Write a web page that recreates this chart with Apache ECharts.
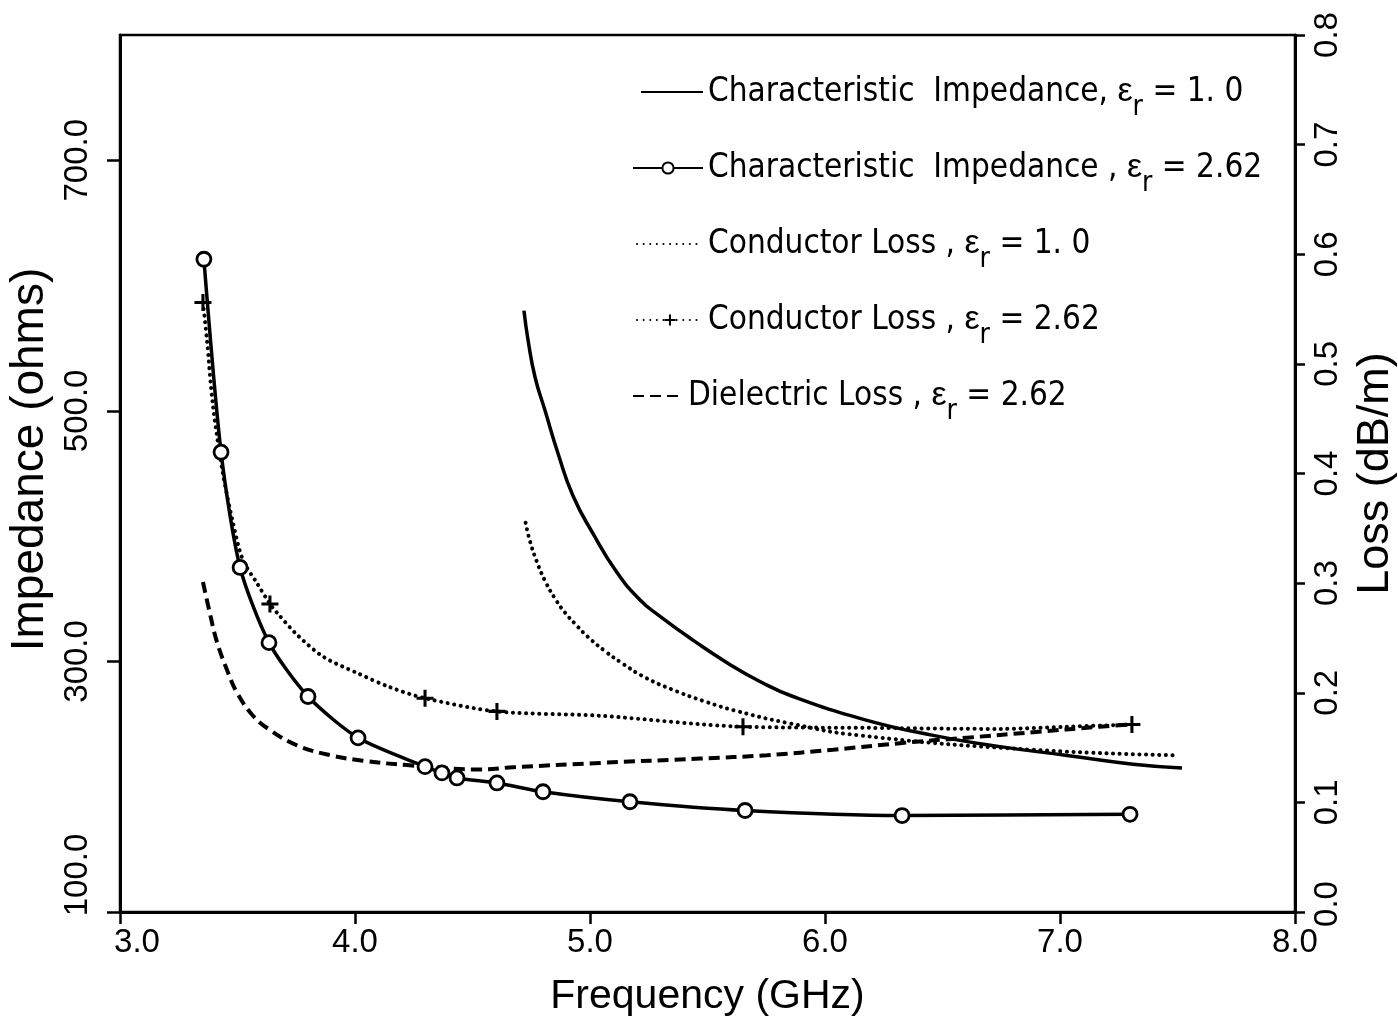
<!DOCTYPE html>
<html>
<head>
<meta charset="utf-8">
<script src="https://cdn.jsdelivr.net/npm/echarts@6/dist/echarts.min.js"></script>
<style>
html,body{margin:0;padding:0;background:#fff;overflow:hidden;}
#chart{width:1398px;height:1023px;}
</style>
</head>
<body>
<div id="chart"></div>
<script>
// ---- data ----
const xTicks = [3.0, 4.0, 5.0, 6.0, 7.0, 8.0];
const zTicks = [100, 300, 500, 700];
const lossTicks = [0.0, 0.1, 0.2, 0.3, 0.4, 0.5, 0.6, 0.7, 0.8];

// Characteristic impedance, er = 1.0 (ohms, left axis)
const ci1Freq = [4.719, 4.736, 4.766, 4.809, 4.864, 4.928, 5.013, 5.115, 5.213, 5.298, 5.438, 5.583, 5.723, 5.864, 6.179, 6.460, 6.745, 7.030, 7.311, 7.519];
const ci1Z    = [580, 557, 527, 500, 466, 432, 402, 371, 349, 336, 317, 299, 284, 272, 253, 241, 232, 225, 218, 215];

// Characteristic impedance, er = 2.62 (ohms, left axis) - every point marked with a circle
const ci262Freq = [3.357, 3.430, 3.511, 3.634, 3.800, 4.013, 4.298, 4.370, 4.434, 4.604, 4.800, 5.170, 5.660, 6.328, 7.298];
const ci262Z    = [621, 467, 375, 315, 272, 239, 216, 211, 207, 203, 196, 188, 181, 177, 178];

// Conductor loss, er = 1.0 (dB/m, right axis)
const cl1Freq = [4.726, 4.745, 4.773, 4.809, 4.851, 4.894, 4.936, 4.991, 5.064, 5.136, 5.234, 5.349, 5.489, 5.630, 5.851, 6.149, 6.885, 7.498];
const cl1Loss = [0.355, 0.338, 0.320, 0.302, 0.286, 0.273, 0.263, 0.251, 0.238, 0.227, 0.214, 0.203, 0.192, 0.183, 0.172, 0.161, 0.148, 0.143];

// Conductor loss, er = 2.62 (dB/m, right axis)
const cl262Freq = [3.353, 3.370, 3.396, 3.438, 3.481, 3.523, 3.583, 3.638, 3.668, 3.753, 3.864, 4.009, 4.149, 4.298, 4.604, 5.043, 5.651, 6.179, 6.745, 7.030, 7.306];
const cl262Loss = [0.556, 0.522, 0.461, 0.400, 0.355, 0.321, 0.300, 0.281, 0.273, 0.253, 0.233, 0.218, 0.205, 0.195, 0.183, 0.179, 0.169, 0.168, 0.167, 0.169, 0.171];
const cl262Marked = [3.353, 3.638, 4.298, 4.604, 5.651, 7.306];

// Dielectric loss, er = 2.62 (dB/m, right axis)
const dlFreq = [3.353, 3.383, 3.413, 3.455, 3.498, 3.566, 3.638, 3.753, 3.894, 4.034, 4.221, 4.532, 4.672, 5.043, 5.468, 5.753, 6.034, 6.319, 6.604, 6.885, 7.170, 7.298];
const dlLoss = [0.301, 0.272, 0.246, 0.221, 0.200, 0.179, 0.166, 0.152, 0.143, 0.138, 0.134, 0.130, 0.132, 0.136, 0.140, 0.143, 0.148, 0.154, 0.159, 0.164, 0.169, 0.171];

const seriesNames = ['ci1', 'ci262', 'cl1', 'cl262', 'dl'];
const legendLabels = {
  ci1:   ['Characteristic  Impedance, ', ' = 1. 0'],
  ci262: ['Characteristic  Impedance , ', ' = 2.62'],
  cl1:   ['Conductor Loss , ', ' = 1. 0'],
  cl262: ['Conductor Loss , ', ' = 2.62'],
  dl:    ['Dielectric Loss , ', ' = 2.62']
};

// ---- build chart ----
const zip = (a, b) => a.map((v, i) => [v, b[i]]);
const NARROW = '"Liberation Sans Narrow", "DejaVu Sans Condensed", "Liberation Sans", Arial, sans-serif';
const SANS = '"Liberation Sans", Arial, Helvetica, sans-serif';
const PLUS = 'path://M4.1,0h1.8v4.1h4.1v1.8h-4.1v4.1h-1.8v-4.1h-4.1v-1.8h4.1z';

const chart = echarts.init(document.getElementById('chart'), null, {renderer: 'canvas'});

const legendRich = {
  t: {fontFamily: NARROW, fontSize: 33, color: '#000', lineHeight: 60},
  e: {fontFamily: SANS, fontSize: 34, color: '#000', lineHeight: 60},
  s: {fontFamily: NARROW, fontSize: 28, color: '#000', lineHeight: 60, verticalAlign: 'bottom'}
};
function legendFor(name, top, left, w, hideSymbol) {
  const l = {
    data: [name], top: top, left: left, orient: 'vertical',
    itemWidth: w, itemHeight: 14, itemGap: 0, padding: 0,
    formatter: n => '{t|' + legendLabels[n][0] + '}{e|ε}{s|r}{t|' + legendLabels[n][1] + '}',
    textStyle: {rich: legendRich, fontFamily: NARROW, fontSize: 33, color: '#000'},
    selectedMode: false
  };
  if (hideSymbol) l.itemStyle = {opacity: 0};
  return l;
}

const axisFont = {fontFamily: SANS, fontSize: 33, color: '#000'};

const option = {
  animation: false,
  backgroundColor: '#fff',
  grid: {left: 120, right: 103, top: 35, bottom: 111, containLabel: false, outerBoundsMode: 'none',
         show: true, borderColor: '#000', borderWidth: 2.5},
  legend: [
    legendFor('ci1', 75, 640, 62, true),
    legendFor('ci262', 151, 632, 70, false),
    legendFor('cl1', 227, 636, 66, true),
    legendFor('cl262', 303, 636, 66, false),
    legendFor('dl', 379, 632, 50, true)
  ],
  xAxis: {
    type: 'value', min: 3, max: 8, interval: 1,
    name: 'Frequency (GHz)', nameLocation: 'middle', nameGap: 64,
    nameTextStyle: {fontFamily: SANS, fontSize: 41, color: '#000'},
    axisLine: {onZero: false, lineStyle: {color: '#000', width: 3}},
    axisTick: {length: 12, lineStyle: {color: '#000', width: 2.5}},
    axisLabel: Object.assign({}, axisFont, {
      margin: 14,
      formatter: v => v === 3 ? '{m|' + v.toFixed(1) + '}' : v.toFixed(1),
      rich: {m: Object.assign({}, axisFont, {padding: [0, 0, 0, 34]})}
    }),
    splitLine: {show: false}
  },
  yAxis: [
    {
      type: 'value', min: 100, max: 800, interval: 200, position: 'left',
      name: 'Impedance (ohms)', nameLocation: 'middle', nameGap: 64, nameRotate: 90,
      nameTextStyle: {fontFamily: SANS, fontSize: 46, color: '#000', padding: [0, 0, 0, 28]},
      axisLine: {show: true, onZero: false, lineStyle: {color: '#000', width: 3}},
      axisTick: {length: 13, lineStyle: {color: '#000', width: 2.5}},
      axisLabel: Object.assign({}, axisFont, {
        rotate: 90, margin: 26, showMaxLabel: false,
        formatter: v => v === 100 ? '{m|' + v.toFixed(1) + '}' : v.toFixed(1),
        rich: {m: Object.assign({}, axisFont, {padding: [0, 0, 0, 74]})}
      }),
      splitLine: {show: false}
    },
    {
      type: 'value', min: 0, max: 0.8, interval: 0.1, position: 'right',
      name: 'Loss (dB/m)', nameLocation: 'middle', nameGap: 58, nameRotate: 90,
      nameTextStyle: {fontFamily: SANS, fontSize: 45, color: '#000'},
      axisLine: {show: true, onZero: false, lineStyle: {color: '#000', width: 3}},
      axisTick: {length: 10, lineStyle: {color: '#000', width: 2.5}},
      axisLabel: Object.assign({}, axisFont, {
        rotate: 90, margin: 16,
        formatter: v => v === 0 ? '{m|' + v.toFixed(1) + '}' : v.toFixed(1),
        rich: {m: Object.assign({}, axisFont, {padding: [0, 0, 0, 16]})}
      }),
      splitLine: {show: false}
    }
  ],
  series: [
    {
      name: 'ci1', type: 'line', yAxisIndex: 0, data: zip(ci1Freq, ci1Z),
      smooth: 0.5, symbol: 'none', showSymbol: false,
      lineStyle: {color: '#000', width: 3.5}, itemStyle: {color: '#000'}
    },
    {
      name: 'ci262', type: 'line', yAxisIndex: 0, data: zip(ci262Freq, ci262Z),
      smooth: 0.25, symbol: 'circle', symbolSize: 14,
      lineStyle: {color: '#000', width: 3.5},
      itemStyle: {color: '#fff', borderColor: '#000', borderWidth: 2.8}
    },
    {
      name: 'cl1', type: 'line', yAxisIndex: 1, data: zip(cl1Freq, cl1Loss),
      smooth: 0.5, symbol: 'none', showSymbol: false,
      lineStyle: {color: '#000', width: 4, type: [0.1, 6.5], cap: 'round'}, itemStyle: {color: '#000'}
    },
    {
      name: 'cl262', type: 'line', yAxisIndex: 1,
      data: cl262Freq.map((f, i) => ({value: [f, cl262Loss[i]], symbol: cl262Marked.includes(f) ? PLUS : 'none'})),
      smooth: 0.3, symbol: PLUS, symbolSize: 17, showSymbol: true,
      lineStyle: {color: '#000', width: 4, type: [0.1, 6.5], cap: 'round'},
      itemStyle: {color: '#000'}
    },
    {
      name: 'dl', type: 'line', yAxisIndex: 1, data: zip(dlFreq, dlLoss),
      smooth: 0.4, symbol: 'none', showSymbol: false,
      lineStyle: {color: '#000', width: 4, type: [11, 6]}, itemStyle: {color: '#000'}
    }
  ]
};
chart.setOption(option);
</script>
</body>
</html>
